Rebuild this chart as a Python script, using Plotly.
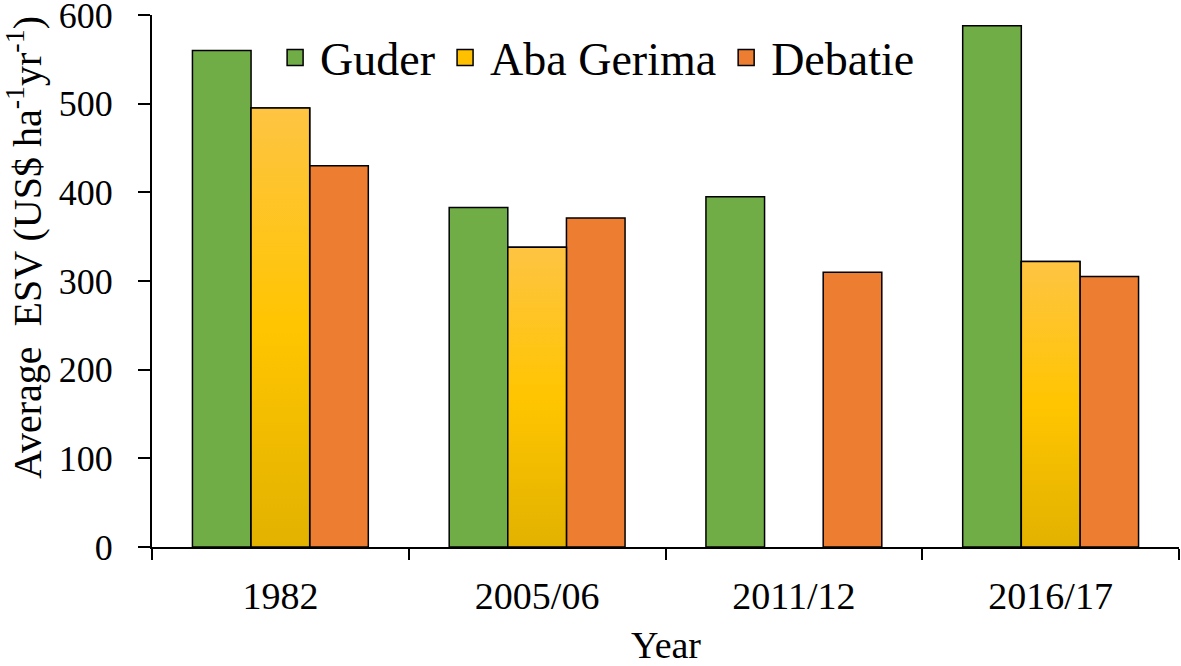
import plotly.graph_objects as go

years = ["1982", "2005/06", "2011/12", "2016/17"]
guder = [560, 383, 395, 588]
aba_gerima = [495, 338, None, 322]
debatie = [430, 371, 310, 305]

series_names = ["Guder", "Aba Gerima", "Debatie"]
colors = {"Guder": "#70AD47", "Aba Gerima": "#FFC000", "Debatie": "#ED7D31"}
aba_gradient = [[0.0, "#E2B200"], [0.5, "#FFC500"], [1.0, "#FEC443"]]
y_title = "Average  ESV (US$ ha<sup>-1</sup>yr<sup>-1</sup>)"
x_title = "Year"

BARGAP = 0.315
FONT = "Times New Roman"

fig = go.Figure()
line = dict(color="black", width=1.5)

for name, vals in zip(series_names, [guder, aba_gerima, debatie]):
    fig.add_trace(go.Bar(
        x=years, y=vals, name=name, showlegend=False,
        marker=dict(color=colors[name], line=line),
    ))

# gradient fill for Aba Gerima bars (drawn over the bar, on a numeric twin axis)
w = (1 - BARGAP) / 3
for i, v in enumerate(aba_gerima):
    if v is None:
        continue
    fig.add_trace(go.Scatter(
        x=[i - w / 2, i + w / 2, i + w / 2, i - w / 2, i - w / 2],
        y=[0, 0, v, v, 0],
        xaxis="x2", mode="lines", fill="toself",
        fillgradient=dict(type="vertical", colorscale=aba_gradient),
        line=dict(color="black", width=1.5),
        showlegend=False, hoverinfo="skip",
    ))

# legend entries
for name in series_names:
    fig.add_trace(go.Scatter(
        x=[None], y=[None], mode="markers", name=name,
        marker=dict(symbol="square", size=16, color=colors[name],
                    line=dict(color="black", width=1.5)),
    ))

fig.update_layout(
    width=1181, height=666,
    margin=dict(l=152, r=2, t=15, b=119, autoexpand=False),
    paper_bgcolor="white", plot_bgcolor="white",
    barmode="group", bargap=BARGAP, bargroupgap=0,
    font=dict(family=FONT, color="black", size=34),
    showlegend=True,
    legend=dict(orientation="h", x=0.115, xanchor="left", y=0.92, yanchor="middle",
                font=dict(size=46, family=FONT, color="black"), bgcolor="rgba(0,0,0,0)",
                itemsizing="trace", itemwidth=40, tracegroupgap=0),
    xaxis=dict(
        type="category", range=[-0.5, 3.5], automargin=False,
        showline=True, linecolor="black", linewidth=2,
        ticks="outside", tickson="boundaries", ticklen=11, tickwidth=2, tickcolor="black",
        tickfont=dict(size=38, family=FONT, color="black"), showgrid=False,
        ticklabelstandoff=14,
    ),
    xaxis2=dict(overlaying="x", range=[-0.5, 3.5], visible=False),
    yaxis=dict(
        range=[0, 600], tickvals=[0, 100, 200, 300, 400, 500, 600], automargin=False,
        showline=True, linecolor="black", linewidth=2,
        ticks="outside", ticklen=12, tickwidth=2, tickcolor="black",
        tickfont=dict(size=36, family=FONT, color="black"), showgrid=False, zeroline=False,
        ticklabelstandoff=18, ticklabeloverflow="allow",
    ),
    annotations=[
        dict(text=y_title, textangle=-90, xref="paper", yref="paper",
             x=-0.1237, y=0.564, xanchor="center", yanchor="middle", showarrow=False,
             font=dict(size=40, family=FONT, color="black")),
        dict(text=x_title, xref="paper", yref="paper",
             x=0.5, y=-0.185, xanchor="center", yanchor="middle", showarrow=False,
             font=dict(size=38, family=FONT, color="black")),
    ],
)

fig.write_html("out.html", post_script="document.body.style.margin='0';",
               config={"displayModeBar": False})
